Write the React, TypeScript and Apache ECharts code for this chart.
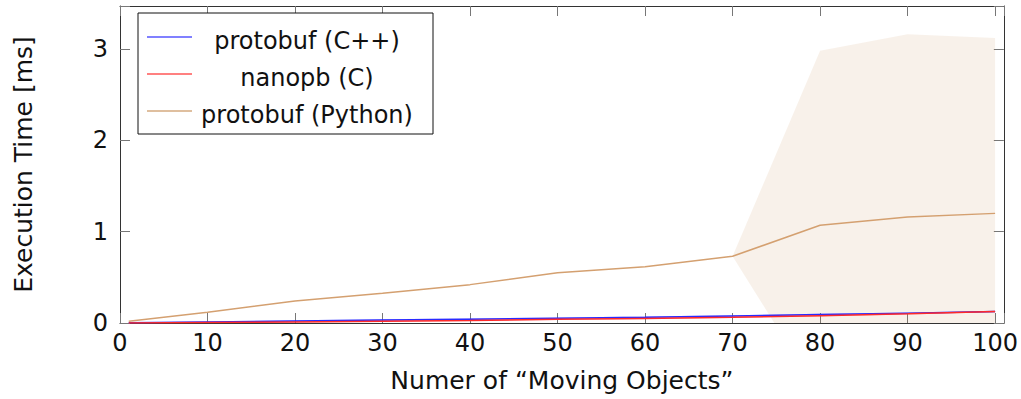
import React, { useEffect, useRef } from "react";
import * as echarts from "echarts";

const xValues = [1, 10, 20, 30, 40, 50, 60, 70, 80, 90, 100];
const xTicks = [0, 10, 20, 30, 40, 50, 60, 70, 80, 90, 100];
const yTicks = [0, 1, 2, 3];

const seriesNames = ["protobuf (C++)", "nanopb (C)", "protobuf (Python)"];

const cppMean = [0.003, 0.012, 0.022, 0.032, 0.042, 0.052, 0.062, 0.077, 0.092, 0.108, 0.126];
const cppUpper = [0.006, 0.018, 0.03, 0.041, 0.051, 0.061, 0.071, 0.086, 0.1, 0.116, 0.134];
const cppLower = [0.0, 0.006, 0.014, 0.023, 0.033, 0.043, 0.053, 0.068, 0.084, 0.1, 0.118];

const nanopbMean = [0.001, 0.005, 0.011, 0.019, 0.028, 0.04, 0.05, 0.062, 0.08, 0.1, 0.125];
const nanopbUpper = [0.003, 0.009, 0.016, 0.025, 0.034, 0.046, 0.056, 0.068, 0.086, 0.106, 0.131];
const nanopbLower = [0.0, 0.001, 0.006, 0.013, 0.022, 0.034, 0.044, 0.056, 0.074, 0.094, 0.119];

const pythonMean = [0.02, 0.117, 0.24, 0.325, 0.42, 0.55, 0.617, 0.73, 1.07, 1.16, 1.2];
const pythonUpper = [0.02, 0.117, 0.24, 0.325, 0.42, 0.55, 0.617, 0.73, 2.98, 3.16, 3.12];
const pythonLower = [0.02, 0.117, 0.24, 0.325, 0.42, 0.55, 0.617, 0.73, -0.8, -0.84, -0.72];

const lineColors = ["#2a2aff", "#ff2a2a", "#d4a070"];
const legendColors = ["#8080ff", "#ff8080", "#dfbf9f"];
const bandColors = ["rgba(0,0,255,0.22)", "rgba(255,0,0,0.22)", "rgba(191,128,64,0.11)"];

const FONT = "DejaVu Sans";

function bandSeries(upper: number[], lower: number[], color: string) {
  return {
    type: "custom",
    clip: true,
    silent: true,
    z: 1,
    data: [0],
    renderItem: (params: any, api: any) => {
      if (params.dataIndex !== 0) return null;
      const pts: number[][] = [];
      for (let i = 0; i < xValues.length; i++) pts.push(api.coord([xValues[i], upper[i]]));
      for (let i = xValues.length - 1; i >= 0; i--) pts.push(api.coord([xValues[i], lower[i]]));
      return {
        type: "polygon",
        shape: { points: pts },
        style: { fill: color, stroke: "none" },
      };
    },
  };
}

function lineSeries(name: string, values: number[], color: string, z: number) {
  return {
    name,
    type: "line",
    data: xValues.map((x, i) => [x, values[i]]),
    showSymbol: false,
    symbol: "none",
    lineStyle: { color, width: 1.5 },
    itemStyle: { color },
    z,
  };
}

export default function App() {
  const ref = useRef<HTMLDivElement>(null);
  useEffect(() => {
    if (!ref.current) return;
    const chart = echarts.init(ref.current, null, { renderer: "svg" });
    const axisLine = { show: true, onZero: false, lineStyle: { color: "#333", width: 1 } };
    const tick = { show: true, inside: true, length: 10, lineStyle: { color: "#777", width: 1 } };
    const xFmt = (v: number) => (xTicks.includes(v) ? String(v) : "");
    const yFmt = (v: number) => (yTicks.includes(v) ? String(v) : "");

    const legendGraphics: any[] = [
      {
        type: "rect",
        shape: { x: 138, y: 13, width: 295, height: 121 },
        style: { fill: "#fff", stroke: "#111", lineWidth: 1 },
        z: 100,
      },
    ];
    const rowsY = [37, 74, 111];
    seriesNames.forEach((n, i) => {
      legendGraphics.push({
        type: "line",
        shape: { x1: 147, y1: rowsY[i], x2: 192, y2: rowsY[i] },
        style: { stroke: legendColors[i], lineWidth: 2 },
        z: 101,
      });
      legendGraphics.push({
        type: "text",
        x: 307,
        y: rowsY[i] + 4,
        style: {
          text: n,
          fontSize: 24,
          fontFamily: FONT,
          fill: "#111",
          align: "center",
          verticalAlign: "middle",
        },
        z: 101,
      });
    });

    chart.setOption({
      animation: false,
      backgroundColor: "#fff",
      grid: { left: 120, right: 15, top: 6, bottom: 76 },
      xAxis: [
        {
          type: "value",
          position: "bottom",
          min: 0,
          max: 101,
          interval: 10,
          name: "Numer of \u201cMoving Objects\u201d",
          nameLocation: "middle",
          nameGap: 45,
          nameTextStyle: { fontSize: 25, fontFamily: FONT, color: "#111" },
          axisLine,
          axisTick: tick,
          splitLine: { show: false },
          axisLabel: { formatter: xFmt, fontSize: 24, fontFamily: FONT, color: "#111", margin: 8 },
        },
        {
          type: "value",
          position: "top",
          min: 0,
          max: 101,
          interval: 10,
          axisLine,
          axisTick: tick,
          splitLine: { show: false },
          axisLabel: { show: false },
        },
      ],
      yAxis: [
        {
          type: "value",
          position: "left",
          min: 0,
          max: 3.47,
          interval: 1,
          name: "Execution Time [ms]",
          nameLocation: "middle",
          nameGap: 84,
          nameTextStyle: { fontSize: 25, fontFamily: FONT, color: "#111" },
          axisLine,
          axisTick: tick,
          splitLine: { show: false },
          axisLabel: { formatter: yFmt, fontSize: 24, fontFamily: FONT, color: "#111", margin: 12 },
        },
        {
          type: "value",
          position: "right",
          min: 0,
          max: 3.47,
          interval: 1,
          axisLine,
          axisTick: tick,
          splitLine: { show: false },
          axisLabel: { show: false },
        },
      ],
      series: [
        bandSeries(pythonUpper, pythonLower, bandColors[2]),
        bandSeries(cppUpper, cppLower, bandColors[0]),
        bandSeries(nanopbUpper, nanopbLower, bandColors[1]),
        lineSeries(seriesNames[2], pythonMean, lineColors[2], 3),
        lineSeries(seriesNames[0], cppMean, lineColors[0], 4),
        lineSeries(seriesNames[1], nanopbMean, lineColors[1], 5),
      ],
      graphic: legendGraphics,
    });
    return () => chart.dispose();
  }, []);
  return (
    <div
      ref={ref}
      style={{ position: "fixed", left: 0, top: 0, width: 1021, height: 399 }}
    />
  );
}
